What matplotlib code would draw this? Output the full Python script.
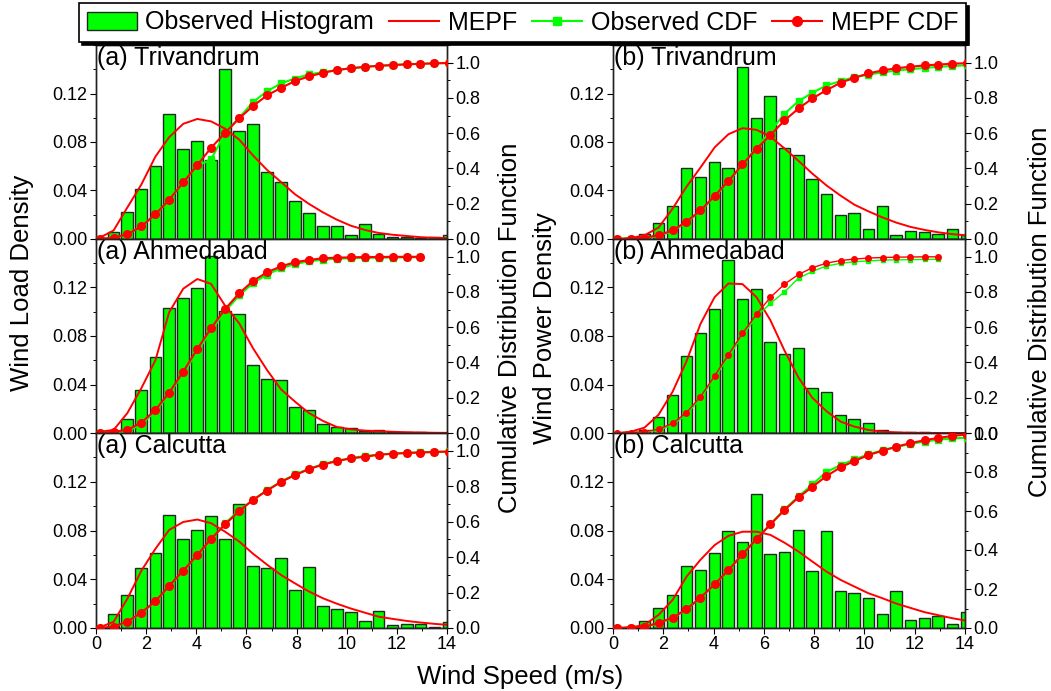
import matplotlib
matplotlib.use("Agg")
import matplotlib.pyplot as plt
from matplotlib import font_manager as fm
from matplotlib.patches import Patch
from matplotlib.lines import Line2D
from matplotlib.ticker import MultipleLocator, FormatStrFormatter

# ---------------- data ----------------
wind_speed = [0.14, 0.70, 1.25, 1.81, 2.37, 2.92, 3.48, 4.04, 4.59, 5.15, 5.71, 6.26, 6.82,
              7.38, 7.93, 8.49, 9.05, 9.60, 10.16, 10.72, 11.27, 11.83, 12.39, 12.94, 13.50, 14.06]
bin_centers = wind_speed[1:]

titles = ["(a) Trivandrum", "(a) Ahmedabad", "(a) Calcutta",
          "(b) Trivandrum", "(b) Ahmedabad", "(b) Calcutta"]

hist_a_triv = [0.006, 0.0225, 0.041, 0.060, 0.103, 0.0745, 0.081, 0.0655, 0.1405, 0.089, 0.095,
               0.0555, 0.047, 0.031, 0.0215, 0.0105, 0.0105, 0.0035, 0.012, 0.0045, 0.002, 0.002,
               0.001, 0.0015, 0.003]
mepf_a_triv = [0.001, 0.007, 0.026, 0.045, 0.068, 0.084, 0.095, 0.099, 0.097, 0.091, 0.082, 0.069,
               0.057, 0.047, 0.037, 0.029, 0.022, 0.016, 0.011, 0.0075, 0.005, 0.0035, 0.0025,
               0.0015, 0.001, 0.0007]
cdfm_a_triv = [0.0, 0.008, 0.026, 0.072, 0.140, 0.223, 0.321, 0.419, 0.517, 0.602, 0.684, 0.754,
               0.814, 0.857, 0.895, 0.922, 0.942, 0.958, 0.968, 0.976, 0.982, 0.986, 0.990, 0.993,
               0.996, 0.998]
cdfo_a_triv = [0.0, 0.006, 0.024, 0.072, 0.140, 0.220, 0.321, 0.415, 0.451, 0.602, 0.687, 0.776,
               0.838, 0.882, 0.910, 0.933, 0.946, 0.958, 0.968, 0.976, 0.982, 0.987, 0.991, 0.994,
               0.996, 0.998]

hist_a_ahm = [0.001, 0.0117, 0.0356, 0.0628, 0.1033, 0.1114, 0.1197, 0.146, 0.1006, 0.0978, 0.0561,
              0.0447, 0.0439, 0.0214, 0.0189, 0.0072, 0.005, 0.0039, 0.0017, 0.0022, 0.001, 0.0008,
              0.0005, 0.0003, 0.0]
mepf_a_ahm = [0.001, 0.0025, 0.0164, 0.037, 0.060, 0.0997, 0.119, 0.127, 0.123, 0.105, 0.0905, 0.070,
              0.052, 0.036, 0.026, 0.0165, 0.010, 0.005, 0.003, 0.002, 0.0015, 0.001, 0.0006,
              0.0004, 0.0002, 0.0001]
cdfm_a_ahm = [0.0, 0.008, 0.017, 0.059, 0.130, 0.229, 0.348, 0.476, 0.594, 0.703, 0.792, 0.862,
              0.911, 0.945, 0.968, 0.981, 0.991, 0.994, 0.996, 0.998, 0.998, 0.999, 0.999, 0.999]
cdfo_a_ahm = [0.0, 0.002, 0.009, 0.050, 0.122, 0.222, 0.337, 0.462, 0.580, 0.690, 0.780, 0.850,
              0.898, 0.934, 0.958, 0.973, 0.983, 0.988, 0.991, 0.993, 0.994, 0.995, 0.996, 0.996]

hist_a_cal = [0.0112, 0.0274, 0.049, 0.0619, 0.0926, 0.0729, 0.0808, 0.0921, 0.0729, 0.1016, 0.0512,
              0.049, 0.0578, 0.0312, 0.0499, 0.0178, 0.0153, 0.0129, 0.0055, 0.0140, 0.0025, 0.0033,
              0.0033, 0.0011, 0.005]
mepf_a_cal = [0.0005, 0.005, 0.024, 0.047, 0.065, 0.0805, 0.087, 0.089, 0.086, 0.079, 0.071, 0.061,
              0.052, 0.0435, 0.0367, 0.030, 0.0244, 0.020, 0.016, 0.0126, 0.0093, 0.0075, 0.0058,
              0.0045, 0.0034, 0.0025]
cdfm_a_cal = [0.0, 0.008, 0.036, 0.087, 0.151, 0.238, 0.323, 0.412, 0.503, 0.584, 0.660, 0.722,
              0.775, 0.824, 0.862, 0.896, 0.922, 0.941, 0.957, 0.966, 0.977, 0.983, 0.987, 0.990,
              0.993, 0.995]
cdfo_a_cal = [0.0, 0.006, 0.034, 0.085, 0.150, 0.236, 0.320, 0.410, 0.500, 0.590, 0.665, 0.722,
              0.778, 0.826, 0.866, 0.897, 0.925, 0.943, 0.958, 0.970, 0.978, 0.984, 0.988, 0.991,
              0.993, 0.996]

hist_b_triv = [0.001, 0.0044, 0.0136, 0.0275, 0.0586, 0.051, 0.0636, 0.0589, 0.142, 0.0997, 0.1178,
               0.0747, 0.0692, 0.0492, 0.0372, 0.020, 0.0211, 0.008, 0.0275, 0.003, 0.007, 0.006,
               0.004, 0.008, 0.003]
mepf_b_triv = [0.0, 0.0008, 0.003, 0.0094, 0.025, 0.043, 0.059, 0.0755, 0.0864, 0.0914, 0.090,
               0.0844, 0.0747, 0.0644, 0.0539, 0.0442, 0.0358, 0.0283, 0.0228, 0.0178, 0.0135,
               0.010, 0.0075, 0.0055, 0.004, 0.003]
cdfm_b_triv = [0.0, 0.002, 0.008, 0.021, 0.049, 0.098, 0.162, 0.244, 0.329, 0.423, 0.512, 0.589,
               0.672, 0.740, 0.797, 0.844, 0.886, 0.914, 0.939, 0.956, 0.968, 0.977, 0.984, 0.989,
               0.994, 0.997]
cdfo_b_triv = [0.0, 0.001, 0.005, 0.018, 0.045, 0.095, 0.158, 0.240, 0.326, 0.420, 0.520, 0.610,
               0.710, 0.782, 0.829, 0.871, 0.895, 0.918, 0.932, 0.945, 0.955, 0.963, 0.970, 0.976,
               0.981, 0.985]

hist_b_ahm = [0.001, 0.0025, 0.0128, 0.031, 0.0639, 0.0822, 0.1022, 0.1428, 0.1106, 0.119, 0.0747,
              0.065, 0.070, 0.037, 0.0339, 0.0147, 0.0114, 0.0086, 0.0025, 0.001, 0.0005, 0.0005,
              0.0003, 0.0002, 0.0]
mepf_b_ahm = [0.0, 0.001, 0.0044, 0.015, 0.034, 0.059, 0.090, 0.112, 0.1233, 0.1228, 0.112, 0.093,
              0.068, 0.0456, 0.029, 0.018, 0.0094, 0.0053, 0.0025, 0.0011, 0.0005, 0.0002, 0.0001,
              0.0, 0.0, 0.0]
cdfm_b_ahm = [0.0, 0.002, 0.008, 0.021, 0.055, 0.115, 0.206, 0.323, 0.444, 0.565, 0.674, 0.769,
              0.844, 0.899, 0.937, 0.963, 0.978, 0.986, 0.992, 0.995, 0.997, 0.998, 0.999, 0.999]
cdfo_b_ahm = [0.0, 0.001, 0.005, 0.016, 0.045, 0.105, 0.196, 0.313, 0.432, 0.550, 0.660, 0.735,
              0.800, 0.878, 0.916, 0.947, 0.962, 0.971, 0.976, 0.980, 0.982, 0.983, 0.984, 0.985]

hist_b_cal = [0.0005, 0.006, 0.0162, 0.0274, 0.051, 0.0477, 0.0614, 0.080, 0.0704, 0.1096, 0.0605,
              0.0627, 0.0808, 0.0468, 0.0797, 0.0307, 0.0285, 0.0249, 0.0112, 0.030, 0.0066, 0.0083,
              0.0099, 0.0033, 0.0135]
mepf_b_cal = [0.0, 0.0005, 0.0025, 0.0107, 0.023, 0.042, 0.056, 0.068, 0.0756, 0.079, 0.079, 0.0764,
              0.070, 0.0627, 0.0545, 0.0463, 0.0395, 0.034, 0.0285, 0.0244, 0.020, 0.0165, 0.013,
              0.0105, 0.008, 0.006]
cdfm_b_cal = [0.0, 0.002, 0.007, 0.026, 0.053, 0.096, 0.156, 0.224, 0.297, 0.378, 0.456, 0.531,
              0.605, 0.670, 0.724, 0.779, 0.824, 0.856, 0.887, 0.909, 0.930, 0.948, 0.963, 0.975,
              0.985, 0.992]
cdfo_b_cal = [0.0, 0.001, 0.006, 0.024, 0.052, 0.095, 0.155, 0.222, 0.297, 0.378, 0.458, 0.533,
              0.608, 0.675, 0.736, 0.800, 0.835, 0.865, 0.890, 0.912, 0.928, 0.944, 0.956, 0.966,
              0.972, 0.976]

hists = [hist_a_triv, hist_a_ahm, hist_a_cal, hist_b_triv, hist_b_ahm, hist_b_cal]
mepfs = [mepf_a_triv, mepf_a_ahm, mepf_a_cal, mepf_b_triv, mepf_b_ahm, mepf_b_cal]
cdfms = [cdfm_a_triv, cdfm_a_ahm, cdfm_a_cal, cdfm_b_triv, cdfm_b_ahm, cdfm_b_cal]
cdfos = [cdfo_a_triv, cdfo_a_ahm, cdfo_a_cal, cdfo_b_triv, cdfo_b_ahm, cdfo_b_cal]
cdf_top = [1.1, 1.1, 1.1, 1.1, 1.1, 1.0]

legend_labels = ["Observed Histogram", "MEPF", "Observed CDF", "MEPF CDF"]

# ---------------- style ----------------
names = {f.name for f in fm.fontManager.ttflist}
base = "Liberation Sans" if "Liberation Sans" in names else "DejaVu Sans"
narrow = "Liberation Sans Narrow" if "Liberation Sans Narrow" in names else None
plt.rcParams["font.family"] = [base, "DejaVu Sans"]
if narrow:
    nfam = [narrow, base]
    lab_fs, leg_fs = 22, 21
else:
    nfam = [base]
    lab_fs, leg_fs = 18.5, 18

GREEN = "#00ff00"
RED = "#ff0000"
W, H = 1051, 691
fig = plt.figure(figsize=(W / 100, H / 100), dpi=100)

cols = [(96, 447), (613, 965)]
rows = [(45, 239), (239, 433), (433, 628)]

for i in range(6):
    c, r = divmod(i, 3)
    x0, x1 = cols[c]
    yt, yb = rows[r]
    ax = fig.add_axes([x0 / W, 1 - yb / H, (x1 - x0) / W, (yb - yt) / H])
    ax.bar(bin_centers, hists[i], width=0.47, color=GREEN, edgecolor="#1e2a1e",
           linewidth=1.0, zorder=2)
    ax.plot(wind_speed, mepfs[i], color=RED, lw=1.4, zorder=3)
    ax.set_xlim(0, 14)
    ax.set_ylim(0, 0.16)
    ax.set_yticks([0.0, 0.04, 0.08, 0.12])
    ax.yaxis.set_major_formatter(FormatStrFormatter("%.2f"))
    ax.yaxis.set_minor_locator(MultipleLocator(0.02))
    ax.xaxis.set_major_locator(MultipleLocator(2))
    ax.xaxis.set_minor_locator(MultipleLocator(1))
    ax.tick_params(axis="both", which="major", direction="out", length=4, width=0.8,
                   labelsize=13, pad=2)
    ax.tick_params(axis="both", which="minor", direction="out", length=2.5, width=0.7)
    if r < 2:
        ax.tick_params(axis="x", labelbottom=False)
    ax.text(0.004, 0.997, titles[i], transform=ax.transAxes, ha="left", va="top",
            fontsize=18, zorder=10)

    ax2 = ax.twinx()
    n = len(cdfms[i])
    thin = (i == 4)
    ax2.plot(wind_speed[:n], cdfos[i], color=GREEN, lw=1.0 if thin else 1.5,
             marker="s", ms=3.5 if thin else 5, zorder=4)
    ax2.plot(wind_speed[:n], cdfms[i], color=RED, lw=1.0 if thin else 1.5,
             marker="o", ms=4 if thin else 5.5, zorder=5)
    ax2.set_ylim(0, cdf_top[i])
    ax2.set_yticks([0.0, 0.2, 0.4, 0.6, 0.8, 1.0])
    ax2.yaxis.set_major_formatter(FormatStrFormatter("%.1f"))
    ax2.yaxis.set_minor_locator(MultipleLocator(0.1))
    ax2.tick_params(axis="y", which="major", direction="out", length=4, width=0.8,
                    labelsize=13, pad=2)
    ax2.tick_params(axis="y", which="minor", direction="out", length=2.5, width=0.7)
    for a in (ax, ax2):
        for s in a.spines.values():
            s.set_linewidth(1.0)
            s.set_color("#222222")

# axis labels
fig.text(22 / W, 1 - 283 / H, "Wind Load Density", rotation=90, ha="center", va="center",
         fontsize=lab_fs, family=nfam)
fig.text(510 / W, 1 - 328 / H, "Cumulative Distribution Function", rotation=90, ha="center",
         va="center", fontsize=lab_fs, family=nfam)
fig.text(545 / W, 1 - 328 / H, "Wind Power Density", rotation=90, ha="center", va="center",
         fontsize=lab_fs, family=nfam)
fig.text(1040 / W, 1 - 312 / H, "Cumulative Distribution Function", rotation=90, ha="center",
         va="center", fontsize=lab_fs, family=nfam)
fig.text(520 / W, 1 - 677 / H, "Wind Speed (m/s)", ha="center", va="center", fontsize=18.5)

# legend
handles = [Patch(facecolor=GREEN, edgecolor="#1e2a1e", linewidth=1.0),
           Line2D([], [], color=RED, lw=1.5),
           Line2D([], [], color=GREEN, lw=1.5, marker="s", ms=6),
           Line2D([], [], color=RED, lw=1.5, marker="o", ms=7)]
leg = fig.legend(handles, legend_labels, loc="upper left", bbox_to_anchor=(79 / W, 1 - 3 / H),
                 ncol=4, frameon=True, fancybox=False, edgecolor="black", framealpha=1,
                 shadow={"color": "black", "alpha": 1}, handlelength=2.0, handletextpad=0.35,
                 columnspacing=0.6, borderpad=0.3, borderaxespad=0,
                 prop={"family": nfam, "size": leg_fs})
leg.get_frame().set_linewidth(1.2)

fig.savefig("out.png", dpi=100)
